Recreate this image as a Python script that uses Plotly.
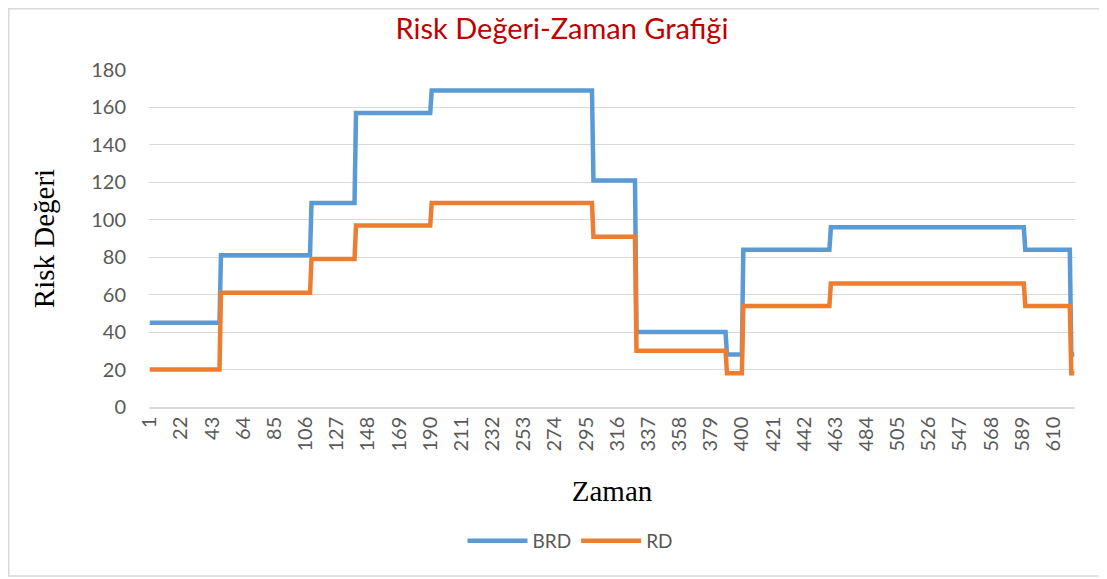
import plotly.graph_objects as go

# ---- data ----
n_categories = 624
step_start = [1, 49, 110, 140, 191, 300, 329, 390, 401, 460, 591, 622]
brd_levels = [45, 81, 109, 157, 169, 121, 40, 28, 84, 96, 84, 28]
rd_levels = [20, 61, 79, 97, 109, 91, 30, 18, 54, 66, 54, 18]
tick_labels = [1, 22, 43, 64, 85, 106, 127, 148, 169, 190, 211, 232, 253, 274,
               295, 316, 337, 358, 379, 400, 421, 442, 463, 484, 505, 526, 547,
               568, 589, 610]
y_ticks = [0, 20, 40, 60, 80, 100, 120, 140, 160, 180]


def expand(starts, levels, n):
    out = []
    k = 0
    for c in range(1, n + 1):
        while k + 1 < len(starts) and c >= starts[k + 1]:
            k += 1
        out.append(levels[k])
    return out


categories = list(range(1, n_categories + 1))
brd = expand(step_start, brd_levels, n_categories)
rd = expand(step_start, rd_levels, n_categories)

fig = go.Figure()
fig.add_trace(go.Scatter(x=categories, y=brd, mode="lines", name="BRD",
                         line=dict(color="#5B9BD5", width=4.5)))
fig.add_trace(go.Scatter(x=categories, y=rd, mode="lines", name="RD",
                         line=dict(color="#ED7D31", width=4.5)))

# page body has an 8px margin: work in screen pixels, convert to figure pixels
OFF = 8
W, H = 1107 - OFF, 579 - OFF
pl, pr, pt, pb = 149 - OFF, 1075 - OFF, 70 - OFF, 407 - OFF  # plot area (figure px)
L, R, T, B = pl, W - pr, pt, H - pb
pw, ph = pr - pl, pb - pt


def px_x(sx):
    return (sx - OFF - pl) / pw


def px_y(sy):
    return (pb - (sy - OFF)) / ph


tick_font = dict(family="Lato, Open Sans, sans-serif", size=20, color="#595959")

fig.update_layout(
    width=W, height=H,
    margin=dict(l=L, r=R, t=T, b=B),
    paper_bgcolor="white", plot_bgcolor="white",
    title=dict(text="Risk Değeri-Zaman Grafiği", xref="container",
               x=(562 - OFF) / W, xanchor="center",
               yref="container", y=1 - (29 - OFF) / H, yanchor="middle",
               font=dict(family="Lato, Open Sans, sans-serif", size=29, color="#C00000")),
    xaxis=dict(range=[0.5, n_categories + 0.5], tickmode="array",
               tickvals=tick_labels, ticktext=[str(t) for t in tick_labels],
               tickangle=-90, showgrid=False, zeroline=False,
               showline=True, linecolor="#D9D9D9", linewidth=1.5,
               ticks="", tickfont=tick_font,
               title=dict(text="Zaman", standoff=30,
                          font=dict(family="Liberation Serif, Times New Roman, serif",
                                    size=29, color="black"))),
    yaxis=dict(range=[0, 180], tickmode="array", tickvals=y_ticks,
               showgrid=True, gridcolor="#D9D9D9", gridwidth=1.3,
               zeroline=False, showline=False, ticks="", tickfont=tick_font,
               ticklabelstandoff=22,
               title=dict(text="Risk Değeri", standoff=28,
                          font=dict(family="Liberation Serif, Times New Roman, serif",
                                    size=29, color="black"))),
    legend=dict(orientation="h", x=px_x(570), xanchor="center",
                y=px_y(541), yanchor="middle",
                font=dict(family="Lato, Open Sans, sans-serif", size=19, color="#595959"),
                itemwidth=60, traceorder="normal"),
    shapes=[dict(type="rect", xref="paper", yref="paper",
                 x0=px_x(OFF + 0.75), x1=px_x(1103), y0=px_y(576), y1=px_y(OFF + 0.75),
                 line=dict(color="#D9D9D9", width=1.5), fillcolor="rgba(0,0,0,0)",
                 layer="below")],
)

fig.write_html("out.html")
